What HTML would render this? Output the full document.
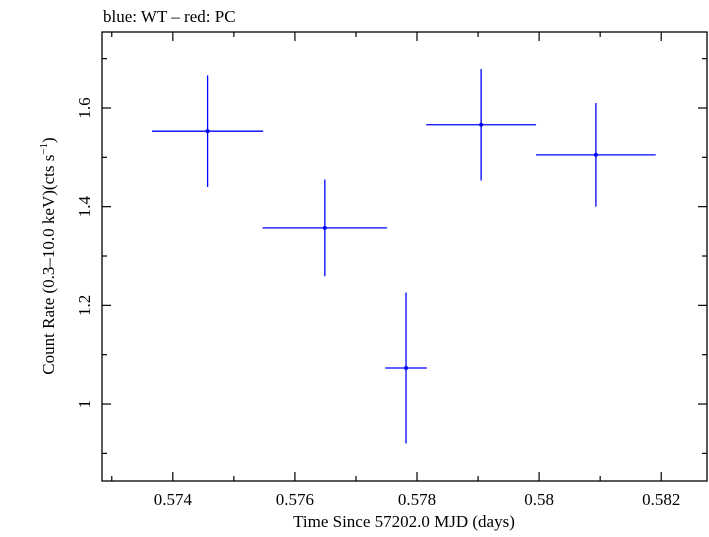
<!DOCTYPE html>
<html><head><meta charset="utf-8"><style>
body{margin:0;background:#fff}
text{font-family:"Liberation Serif",serif;fill:#000}
</style></head><body>
<svg id="chart" width="709" height="532" viewBox="0 0 709 532" xmlns="http://www.w3.org/2000/svg">
<text x="103" y="22" font-size="17">blue: WT – red: PC</text>
<rect x="102" y="32" width="605" height="449" fill="none" stroke="#000" stroke-width="1.3"/>
<g id="ticks"></g>
<g id="marks"></g>
<text x="404" y="527" font-size="17" text-anchor="middle">Time Since 57202.0 MJD (days)</text>
<text transform="translate(54,256) rotate(-90)" font-size="17" text-anchor="middle">Count Rate (0.3–10.0 keV)(cts s<tspan font-size="11" dy="-7">−1</tspan><tspan dy="7">)</tspan></text>
</svg>
<script>
const xVals=[0.57457,0.57649,0.57782,0.57905,0.58093];
const xErrs=[0.00091,0.00102,0.00034,0.00090,0.00098];
const yVals=[1.553,1.357,1.073,1.566,1.505];
const yErrs=[0.113,0.098,0.153,0.113,0.105];
const xTicks=[0.574,0.576,0.578,0.58,0.582];
const xTickLabels=["0.574","0.576","0.578","0.58","0.582"];
const yTicks=[1,1.2,1.4,1.6];
const yTickLabels=["1","1.2","1.4","1.6"];
const L=102,R=707,T=32,B=481;
const x0=0.57284,x1=0.58275,y0=0.844,y1=1.754;
const sx=v=>L+(v-x0)/(x1-x0)*(R-L);
const sy=v=>B-(v-y0)/(y1-y0)*(B-T);
const NS="http://www.w3.org/2000/svg";
function mk(tag,attrs,parent){const e=document.createElementNS(NS,tag);for(const k in attrs)e.setAttribute(k,attrs[k]);parent.appendChild(e);return e;}
const tg=document.getElementById('ticks'),mg=document.getElementById('marks');
for(let i=0;i<=11;i++){const v=0.573+i*0.001;if(v<x0||v>x1)continue;const X=sx(v);const major=Math.abs(Math.round(v*1000)%2)===0;const len=major?9:5;
 let l=mk('line',{x1:X,x2:X,y1:B,y2:B-len,stroke:'#000','stroke-width':1.2},tg);
 l=mk('line',{x1:X,x2:X,y1:T,y2:T+len,stroke:'#000','stroke-width':1.2},tg);}
for(let i=0;i<=9;i++){const v=0.9+i*0.1;if(v<y0||v>y1)continue;const Y=sy(v);const major=Math.round(v*10)%2===0;const len=major?9:5;
 let l=mk('line',{x1:L,x2:L+len,y1:Y,y2:Y,stroke:'#000','stroke-width':1.2},tg);
 l=mk('line',{x1:R,x2:R-len,y1:Y,y2:Y,stroke:'#000','stroke-width':1.2},tg);}
xTicks.forEach((v,i)=>{const t=mk('text',{x:sx(v),y:505,'font-size':17,'text-anchor':'middle'},tg);t.textContent=xTickLabels[i];
 });
yTicks.forEach((v,i)=>{const t=mk('text',{transform:`translate(90,${sy(v)}) rotate(-90)`,'font-size':17,'text-anchor':'middle'},tg);t.textContent=yTickLabels[i];
 });
xVals.forEach((v,i)=>{const g=mk('g',{},mg);
 const X=sx(v),Y=sy(yVals[i]);
 mk('line',{x1:sx(v-xErrs[i]),x2:sx(v+xErrs[i]),y1:Y,y2:Y,stroke:'#0000ff','stroke-width':1.3},g);
 mk('line',{x1:X,x2:X,y1:sy(yVals[i]+yErrs[i]),y2:sy(yVals[i]-yErrs[i]),stroke:'#0000ff','stroke-width':1.3},g);
 mk('circle',{cx:X,cy:Y,r:2,fill:'#0000ff'},g);});
</script>
</body></html>
